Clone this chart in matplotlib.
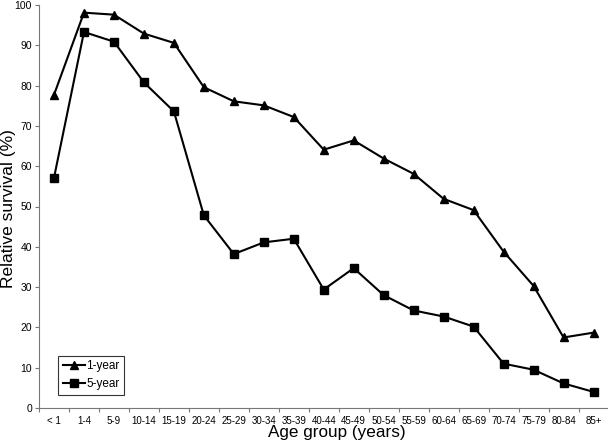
import numpy as np
import matplotlib
matplotlib.use("Agg")
import matplotlib.pyplot as plt

plt.rcParams["font.family"] = ["Liberation Sans", "DejaVu Sans"]

age_groups = ["< 1", "1-4", "5-9", "10-14", "15-19", "20-24", "25-29", "30-34",
              "35-39", "40-44", "45-49", "50-54", "55-59", "60-64", "65-69",
              "70-74", "75-79", "80-84", "85+"]
one_year = [77.7, 98.1, 97.6, 92.9, 90.6, 79.6, 76.1, 75.1, 72.2, 64.1,
            66.4, 61.9, 58.1, 51.9, 49.1, 38.8, 30.3, 17.5, 18.7]
five_year = [57.1, 93.3, 90.9, 80.8, 73.6, 47.8, 38.2, 41.1, 42.0, 29.4,
             34.7, 28.0, 24.2, 22.7, 20.2, 11.0, 9.5, 6.1, 4.0]

W, H = 609, 441
fig = plt.figure(figsize=(W / 100, H / 100), dpi=100)
ax = fig.add_axes([39 / W, 1 - 408 / H, 568 / W, 403 / H])

x = np.arange(len(age_groups))
ax.plot(x, one_year, color="black", lw=1.5, marker="^", ms=6, label="1-year")
ax.plot(x, five_year, color="black", lw=1.5, marker="s", ms=6.3, label="5-year")

ax.set_xlim(-0.5, len(age_groups) - 0.55)
ax.set_ylim(0, 100)
ax.set_yticks(range(0, 101, 10))
ax.set_xticks(x)
ax.set_xticklabels(age_groups, fontsize=7)
ax.set_xticks(np.arange(-0.5, len(age_groups) - 0.5, 1), minor=True)
ax.tick_params(axis="x", which="major", length=0, pad=6)
ax.tick_params(axis="x", which="minor", length=3, direction="out",
               width=0.8, color="#777777")
ax.tick_params(axis="y", labelsize=7.5, length=3, width=0.8, pad=2,
               color="#777777")

for side in ("top", "right"):
    ax.spines[side].set_visible(False)
for side in ("left", "bottom"):
    ax.spines[side].set_linewidth(0.8)
    ax.spines[side].set_color("#777777")

# label centres measured in figure pixels, converted to axes fractions
ax.set_xlabel("Age group (years)", fontsize=12.3)
ax.xaxis.set_label_coords((336.5 - 39) / 568, -(433 - 408) / 403,
                          transform=ax.transAxes)
ax.xaxis.label.set_verticalalignment("center")
ax.set_ylabel("Relative survival (%)", fontsize=12.5)
ax.yaxis.set_label_coords(-(39 - 9) / 568, (408 - 209) / 403,
                          transform=ax.transAxes)
ax.yaxis.label.set_verticalalignment("center")

leg = fig.legend(loc="lower left", bbox_to_anchor=(58.5 / W, 1 - 394.5 / H),
                 borderaxespad=0, fontsize=8.5, frameon=True, fancybox=False,
                 handlelength=1.9, handletextpad=0.1, borderpad=0.35,
                 labelspacing=0.5)
leg.get_frame().set_edgecolor("black")
leg.get_frame().set_linewidth(0.8)

fig.savefig("out.png", dpi=100)
